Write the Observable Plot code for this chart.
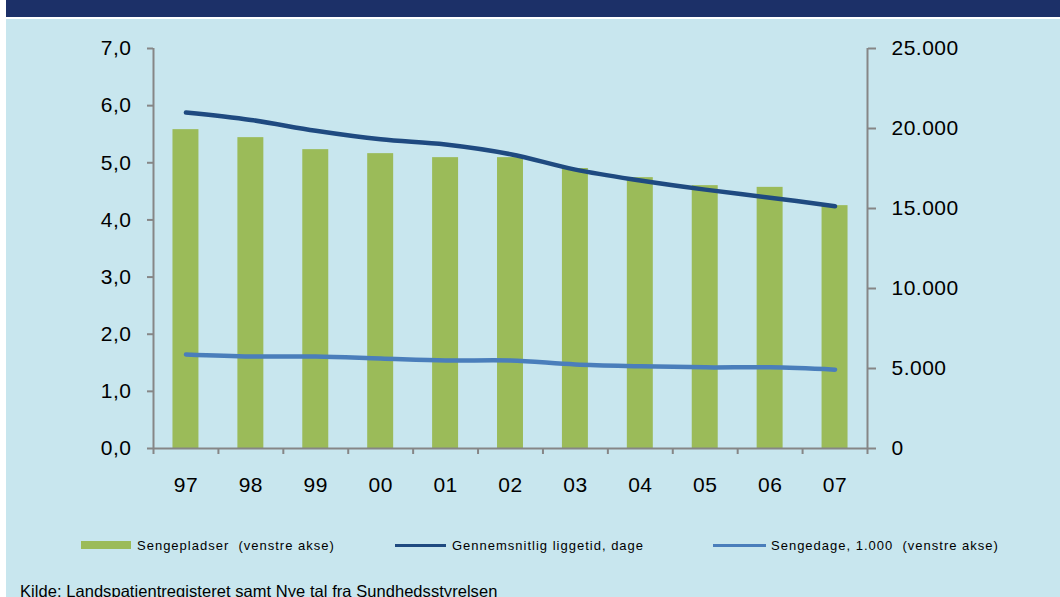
<!DOCTYPE html>
<html>
<head>
<meta charset="utf-8">
<script src="https://cdn.jsdelivr.net/npm/d3@7"></script>
<script src="https://cdn.jsdelivr.net/npm/@observablehq/plot@0.6"></script>
<style>
  html, body { margin: 0; padding: 0; background: #ffffff; }
  body { width: 1060px; height: 597px; overflow: hidden; position: relative; font-family: "Liberation Sans", Arial, sans-serif; }
  #header { position: absolute; left: 6px; top: 0; width: 1054px; height: 17px; background: #1C3068; }
  #panel { position: absolute; left: 6px; top: 19px; width: 1054px; height: 578px; background: #C8E6EE; }
  #chart { position: absolute; left: 0; top: 0; }
  .leg { position: absolute; top: 538px; font-size: 13px; letter-spacing: 1px; color: #000; white-space: pre; line-height: 16px; }
  .sw { position: absolute; }
  #caption { position: absolute; left: 20px; top: 583px; font-size: 16.5px; line-height: 16.5px; letter-spacing: 0.05px; color: #000; white-space: pre; }
</style>
</head>
<body>
<div id="header"></div>
<div id="panel"></div>
<div id="chart"></div>
<div class="sw" style="left:81px; top:541px; width:50px; height:8px; background:#9BBB59;"></div>
<div class="leg" style="left:137px;">Sengepladser  (venstre akse)</div>
<div class="sw" style="left:395px; top:544px; width:51px; height:3px; background:#1F4A80;"></div>
<div class="leg" style="left:452px;">Gennemsnitlig liggetid, dage</div>
<div class="sw" style="left:713px; top:544px; width:53px; height:3px; background:#4A7EBB;"></div>
<div class="leg" style="left:771px;">Sengedage, 1.000  (venstre akse)</div>
<div id="caption">Kilde: Landspatientregisteret samt Nye tal fra Sundhedsstyrelsen</div>
<script>
const years = ["97","98","99","00","01","02","03","04","05","06","07"];
const sengepladser = [5.58, 5.44, 5.23, 5.16, 5.09, 5.09, 4.90, 4.74, 4.60, 4.57, 4.25];
const liggetid = [5.88, 5.75, 5.56, 5.41, 5.32, 5.15, 4.88, 4.69, 4.53, 4.39, 4.24];
const sengedage = [1.645, 1.61, 1.61, 1.575, 1.54, 1.54, 1.47, 1.44, 1.42, 1.42, 1.38];
const leftTicks = [0, 1, 2, 3, 4, 5, 6, 7];
const rightTicks = [0, 5000, 10000, 15000, 20000, 25000];
const leftMax = 7, rightMax = 25000;

const da = d3.formatLocale({decimal: ",", thousands: ".", grouping: [3], currency: ["", " kr"]});
const fmt1 = da.format(",.1f");
const fmt0 = da.format(",.0f");

const bars = years.map((y, i) => ({year: y, v: sengepladser[i]}));
const l1 = years.map((y, i) => ({year: y, v: liggetid[i]}));
const l2 = years.map((y, i) => ({year: y, v: sengedage[i]}));

const W = 1060, mL = 153, mR = 193;
const halfStep = (W - mL - mR) / years.length / 2;
const axisGray = "#868686";

const plot = Plot.plot({
  width: W,
  height: 510,
  marginTop: 48,
  marginBottom: 62,
  marginLeft: mL,
  marginRight: mR,
  style: {background: "transparent", fontFamily: "'Liberation Sans', Arial, sans-serif", fontSize: "21px", letterSpacing: "0.5px", color: "#000"},
  x: {domain: years, paddingInner: 0.6, paddingOuter: 0.3, round: false},
  y: {domain: [0, leftMax]},
  marks: [
    Plot.barY(bars, {x: "year", y: "v", fill: "#9BBB59"}),
    Plot.lineY(l2, {x: "year", y: "v", stroke: "#4A7EBB", strokeWidth: 4.5, curve: "catmull-rom", strokeLinecap: "round"}),
    Plot.lineY(l1, {x: "year", y: "v", stroke: "#1F4A80", strokeWidth: 4.5, curve: "catmull-rom", strokeLinecap: "round"}),
    // axis lines
    Plot.ruleY([0], {stroke: axisGray, strokeWidth: 2}),
    Plot.ruleX([years[0]], {stroke: axisGray, strokeWidth: 2, dx: -halfStep}),
    Plot.ruleX([years[years.length - 1]], {stroke: axisGray, strokeWidth: 2, dx: halfStep}),
    // x ticks at band boundaries
    Plot.axisX({tickSize: 6, tickFormat: null, dx: -halfStep, stroke: axisGray, strokeWidth: 2, label: null}),
    Plot.axisX({ticks: [years[years.length - 1]], tickSize: 6, tickFormat: null, dx: halfStep, stroke: axisGray, strokeWidth: 2, label: null}),
    Plot.axisX({tickSize: 0, tickPadding: 29, fill: "#000", fontSize: 21, label: null}),
    // left axis
    Plot.axisY({ticks: leftTicks, tickSize: 6, tickPadding: 16, tickFormat: fmt1, stroke: axisGray, strokeWidth: 2, fill: "#000", fontSize: 21, label: null}),
    // right axis (secondary scale)
    Plot.axisY({anchor: "right", ticks: rightTicks.map(v => v * leftMax / rightMax), tickSize: 8, tickPadding: 16,
      tickFormat: d => fmt0(Math.round(d * rightMax / leftMax)), stroke: axisGray, strokeWidth: 2, fill: "#000", fontSize: 21, label: null})
  ]
});
document.getElementById("chart").appendChild(plot);
</script>
</body>
</html>
